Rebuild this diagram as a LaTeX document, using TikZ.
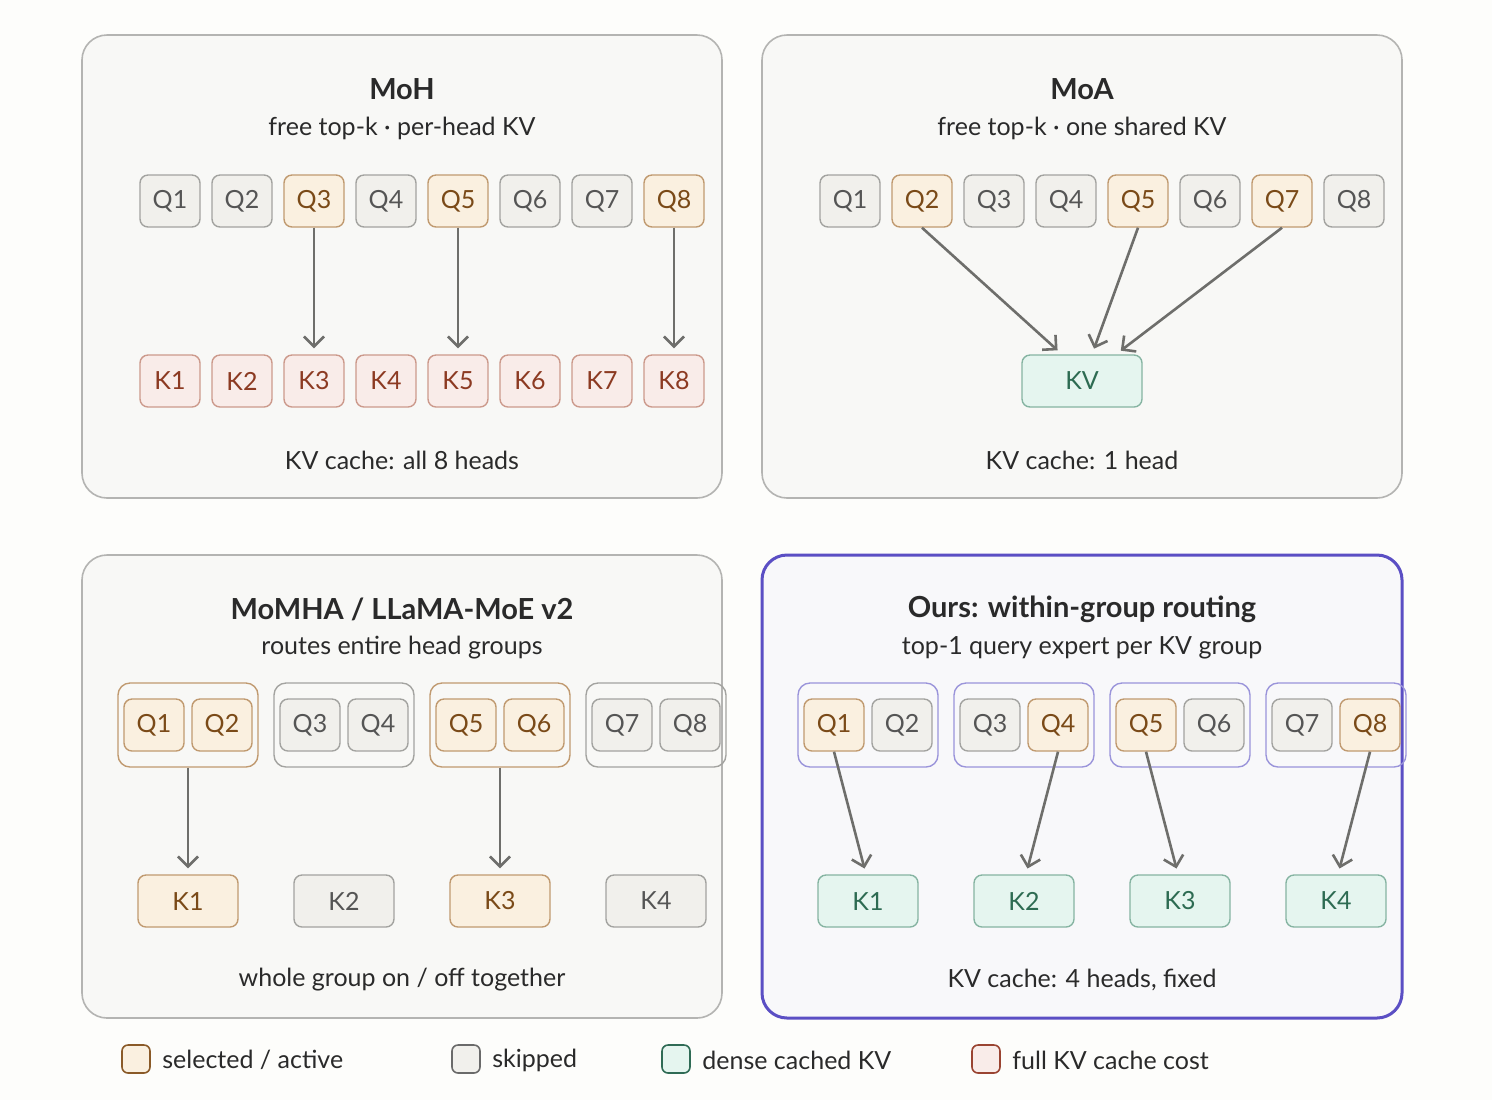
\documentclass[tikz,border=0pt]{standalone}
\usepackage{fontspec}
\setmainfont{Lato}
\usepackage{tikz}
\usetikzlibrary{arrows.meta}
\usetikzlibrary{positioning}

\definecolor{page}{HTML}{FDFDFB}
\definecolor{panelbg}{HTML}{F8F8F6}
\definecolor{panelline}{HTML}{B4B4B2}
\definecolor{oursbg}{HTML}{F8F8FA}
\definecolor{oursline}{HTML}{5B4FC4}
\definecolor{oursgrp}{HTML}{9A94DA}
\definecolor{ink}{HTML}{2A2A2A}
\definecolor{arrowgray}{HTML}{6E6E6B}
\definecolor{selfill}{HTML}{FAF0E0}
\definecolor{selline}{HTML}{C09A70}
\definecolor{seltext}{HTML}{7A4A18}
\definecolor{seldark}{HTML}{8A5A28}
\definecolor{skipfill}{HTML}{F1F0EC}
\definecolor{skipline}{HTML}{A3A3A0}
\definecolor{skiptext}{HTML}{555555}
\definecolor{skipdark}{HTML}{6A6A6A}
\definecolor{kvfill}{HTML}{E5F5EF}
\definecolor{kvline}{HTML}{86B4A2}
\definecolor{kvtext}{HTML}{2D6B52}
\definecolor{kvdark}{HTML}{2F6B55}
\definecolor{fullfill}{HTML}{F9ECE9}
\definecolor{fullline}{HTML}{CC9A8C}
\definecolor{fulltext}{HTML}{8C3A22}
\definecolor{fulldark}{HTML}{9A4432}

\begin{document}
\begin{tikzpicture}[x=0.5pt, y=-0.5pt,
    panel/.style = {draw=panelline, fill=panelbg, line width=0.8pt, rounded corners=12.5pt},
    head/.style = {draw, rounded corners=4pt, line width=0.7pt, minimum width=30pt, minimum height=26pt, inner sep=0pt, font=\fontsize{12.5}{15}\selectfont},
    sel/.style = {head, draw=selline, fill=selfill, text=seltext},
    skip/.style = {head, draw=skipline, fill=skipfill, text=skiptext},
    kvg/.style = {head, draw=kvline, fill=kvfill, text=kvtext},
    full/.style = {head, draw=fullline, fill=fullfill, text=fulltext},
    wide/.style = {minimum width=50pt},
    grp/.style = {draw, rounded corners=6pt, line width=0.7pt, minimum width=70pt, minimum height=42pt, inner sep=0pt},
    gsel/.style = {grp, draw=selline},
    gskip/.style = {grp, draw=skipline},
    gours/.style = {grp, draw=oursgrp},
    route/.style = {draw=arrowgray, line width=1.3pt, shorten >=3pt, -{Straight Barb[length=5pt, width=10pt]}},
    title/.style = {font=\bfseries\fontsize{14.5}{17}\selectfont, text=ink},
    sub/.style = {font=\fontsize{12.5}{15}\selectfont, text=ink},
    swatch/.style = {draw, rounded corners=3pt, line width=0.8pt, minimum size=14pt, inner sep=0pt},
    legend/.style = {anchor=west, inner sep=0pt, font=\fontsize{12.5}{15}\selectfont, text=ink}]

    \fill[page] (0,0) rectangle (1492,1100);
    \useasboundingbox (0,0) rectangle (1492,1100);

    % panels
    \draw[panel] (82,35) rectangle (722,498);
    \draw[panel] (762,35) rectangle (1402,498);
    \draw[panel] (82,555) rectangle (722,1018);
    \draw[panel, draw=oursline, fill=oursbg, line width=1.5pt] (762,555) rectangle (1402,1018);

    % MoH
    \node[title] (mohtitle) at (402,89) {MoH};
    \node[sub] (mohsub) at (402,128) {free top-k · per-head KV};
    \foreach \i/\s in {1/skip,2/skip,3/sel,4/skip,5/sel,6/skip,7/skip,8/sel}
        \node[\s] (hq\i) at (98+72*\i,201) {Q\i};
    \foreach \i in {1,...,8}
        \node[full] (hk\i) at (98+72*\i,381) {K\i};
    \foreach \i in {3,5,8}
        \draw[route] (hq\i) -- (hk\i);
    \node[sub] (mohfoot) at (402,460) {KV cache: all 8 heads};

    % MoA
    \node[title] (moatitle) at (1082,89) {MoA};
    \node[sub] (moasub) at (1082,128) {free top-k · one shared KV};
    \foreach \i/\s in {1/skip,2/sel,3/skip,4/skip,5/sel,6/skip,7/sel,8/skip}
        \node[\s] (aq\i) at (778+72*\i,201) {Q\i};
    \node[kvg, minimum width=60pt] (kv) at (1082,381) {KV};
    \draw[route] (aq2.south) -- ([xshift=-10pt]kv.north);
    \draw[route] (aq5.south) -- ([xshift=5pt]kv.north);
    \draw[route] (aq7.south) -- ([xshift=17pt]kv.north);
    \node[sub] (moafoot) at (1082,460) {KV cache: 1 head};

    % MoMHA / LLaMA-MoE v2
    \node[title] (bgtitle) at (402,609) {MoMHA / LLaMA-MoE v2};
    \node[sub] (bgsub) at (402,648) {routes entire head groups};
    \foreach \g/\gs/\s in {1/gsel/sel,2/gskip/skip,3/gsel/sel,4/gskip/skip} {
        \pgfmathtruncatemacro\a{2*\g-1}
        \pgfmathtruncatemacro\b{2*\g}
        \node[\gs] (bg\g) at (32+156*\g,725) {};
        \node[\s] (bq\a) at (-2+156*\g,725) {Q\a};
        \node[\s] (bq\b) at (66+156*\g,725) {Q\b};
        \node[\s, wide] (bk\g) at (32+156*\g,901) {K\g};
    }
    \foreach \g in {1,3}
        \draw[route] (bg\g) -- (bk\g);
    \node[sub] (bgfoot) at (402,980) {whole group on / off together};

    % ours
    \node[title] (ourtitle) at (1082,609) {Ours: within-group routing};
    \node[sub] (oursub) at (1082,648) {top-1 query expert per KV group};
    \foreach \g/\l/\r in {1/sel/skip,2/skip/sel,3/sel/skip,4/skip/sel} {
        \pgfmathtruncatemacro\a{2*\g-1}
        \pgfmathtruncatemacro\b{2*\g}
        \node[gours] (og\g) at (712+156*\g,725) {};
        \node[\l] (oq\a) at (678+156*\g,725) {Q\a};
        \node[\r] (oq\b) at (746+156*\g,725) {Q\b};
        \node[kvg, wide] (ok\g) at (712+156*\g,901) {K\g};
    }
    \draw[route] (oq1.south) -- ([xshift=-1pt]ok1.north);
    \draw[route] (oq4.south) -- ([xshift=1pt]ok2.north);
    \draw[route] (oq5.south) -- ([xshift=-1pt]ok3.north);
    \draw[route] (oq8.south) -- ([xshift=1pt]ok4.north);
    \node[sub] (ourfoot) at (1082,980) {KV cache: 4 heads, fixed};

    % legend
    \node[swatch, draw=seldark, fill=selfill] (lsel) at (136,1059) {};
    \node[legend] (lseltext) at (162,1060) {selected / active};
    \node[swatch, draw=skipdark, fill=skipfill] (lskip) at (466,1059) {};
    \node[legend] (lskiptext) at (492,1060) {skipped};
    \node[swatch, draw=kvdark, fill=kvfill] (lkv) at (676,1059) {};
    \node[legend] (lkvtext) at (702,1060) {dense cached KV};
    \node[swatch, draw=fulldark, fill=fullfill] (lfull) at (986,1059) {};
    \node[legend] (lfulltext) at (1012,1060) {full KV cache cost};
\end{tikzpicture}
\end{document}
